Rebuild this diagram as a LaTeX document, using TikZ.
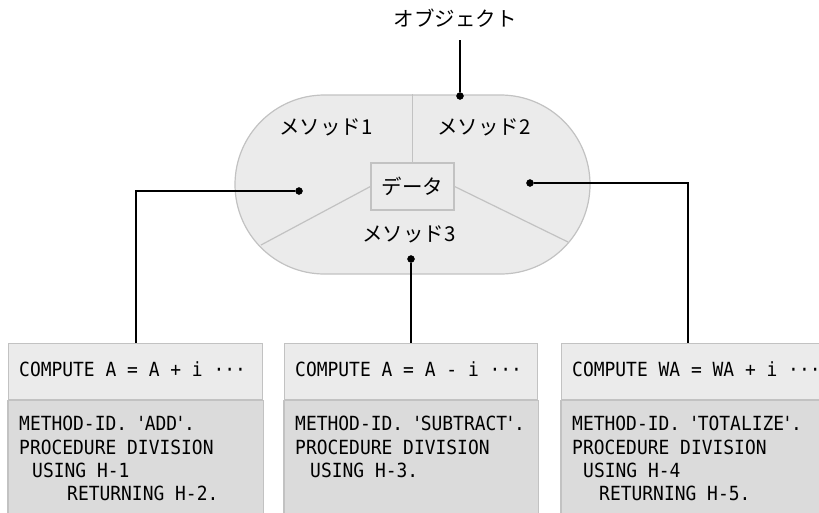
\documentclass[tikz,border=0pt]{standalone}
\usepackage{fontspec}
\newfontfamily\jpfont{Noto Sans CJK JP}
\newfontfamily\codefont[FakeStretch=0.92]{DejaVu Sans Mono}
\usetikzlibrary{shapes.misc,positioning}
\definecolor{panel}{HTML}{EBEBEB}
\definecolor{paneldark}{HTML}{DBDBDB}
\definecolor{rim}{HTML}{C2C2C2}
\newcommand\qt{\kern-2pt'\kern-2pt}
\tikzset{
  capsule/.style={
    rounded rectangle, draw=rim, line width=1.2pt, fill=panel,
    inner sep=0pt, minimum width=355pt, minimum height=179pt
  },
  data box/.style={
    rectangle, draw=rim, line width=1.2pt, fill=panel, inner sep=0pt,
    minimum width=83pt, minimum height=47pt,
    font=\jpfont\fontsize{20.5}{23}\selectfont
  },
  divider/.style={draw=rim, line width=1.2pt},
  method label/.style={
    inner sep=0pt, font=\jpfont\fontsize{20.5}{23}\selectfont
  },
  link dot/.style={
    circle, fill=black, draw=black, inner sep=0pt, minimum size=7pt
  },
  link/.style={draw=black, line width=1.8pt},
  code head/.style={
    rectangle, draw=rim, line width=1.2pt, fill=panel, anchor=north west,
    minimum height=56pt, minimum width=#1, inner sep=0pt
  },
  code body/.style={
    draw=rim, line width=1.2pt, fill=paneldark
  },
  code line/.style={
    anchor=base west, inner sep=0pt,
    font=\codefont\fontsize{19.5}{23.3}\selectfont
  },
  code text/.style={
    anchor=north west, inner xsep=11pt, inner ysep=16pt, align=left,
    font=\codefont\fontsize{19.5}{23.3}\selectfont
  }
}

\begin{document}
\begin{tikzpicture}[x=1pt, y=-1pt]
\useasboundingbox (0,0) rectangle (819,512);
\clip (0,0) rectangle (819,512);
\coordinate (floor) at (0,520);

% ---------------------------
% オブジェクト
% ---------------------------
\begin{scope}
  \node[capsule] (obj) at (412.5,184.5) {};
  \node[data box] (data) at (412.5,186.5) {データ};

  \coordinate (cutL) at (261,245);
  \coordinate (cutR) at (568,242);
  \draw[divider] (data.north) -- (data.north |- obj.north);
  \draw[divider] (data.west) -- (cutL);
  \draw[divider] (data.east) -- (cutR);

  \node[method label] (m1) at (326,127) {メソッド1};
  \node[method label] (m2) at (484,127) {メソッド2};
  \node[method label] (m3) at (409,234) {メソッド3};

  \node[method label] (objname) at (455,18) {オブジェクト};
  \coordinate (objtop) at (460,40);
  \node[link dot] (dtop) at (460,96) {};
  \node[link dot] (d1) at (299,191) {};
  \node[link dot] (d2) at (530,183) {};
  \node[link dot] (d3) at (411,259) {};
\end{scope}

% ---------------------------
% メソッドの定義
% ---------------------------
\begin{scope}
  \node[code head=254pt] (head1) at (8,343) {};
  \node[code line] (call1) at ([xshift=11pt,yshift=-5pt]head1.west)
    {COMPUTE A = A + i ···};
  \draw[code body] (head1.south west) rectangle (head1.south east |- floor);
  \node[code text] (body1) at (head1.south west) {%
    METHOD-ID. \qt ADD\qt.\\
    PROCEDURE DIVISION\\
    \hspace*{13pt}USING H-1\\
    \hspace*{48pt}RETURNING H-2.};

  \node[code head=253pt] (head2) at (284,343) {};
  \node[code line] (call2) at ([xshift=11pt,yshift=-5pt]head2.west)
    {COMPUTE A = A - i ···};
  \draw[code body] (head2.south west) rectangle (head2.south east |- floor);
  \node[code text] (body2) at (head2.south west) {%
    METHOD-ID. \qt SUBTRACT\qt.\\
    PROCEDURE DIVISION\\
    \hspace*{15pt}USING H-3.};

  \node[code head=280pt] (head3) at (561,343) {};
  \node[code line] (call3) at ([xshift=11pt,yshift=-5pt]head3.west)
    {COMPUTE WA = WA + i ···};
  \draw[code body] (head3.south west) rectangle (head3.south east |- floor);
  \node[code text] (body3) at (head3.south west) {%
    METHOD-ID. \qt TOTALIZE\qt.\\
    PROCEDURE DIVISION\\
    \hspace*{11pt}USING H-4\\
    \hspace*{27pt}RETURNING H-5.};
\end{scope}

% ---------------------------
% 接続線
% ---------------------------
\draw[link] (objtop) -- (dtop);
\draw[link] (d1) -| (head1.north);
\draw[link] (d3) -- (d3 |- head2.north);
\draw[link] (d2) -| ([xshift=127pt]head3.north west);

\end{tikzpicture}
\end{document}
